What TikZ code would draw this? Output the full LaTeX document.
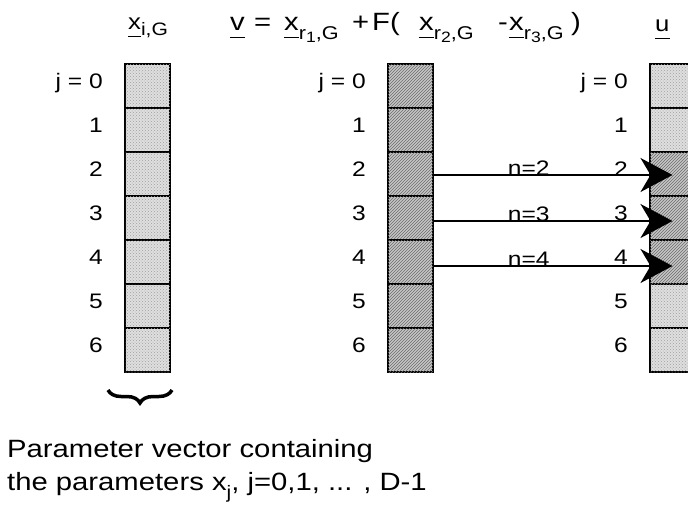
\documentclass[tikz,border=0pt]{standalone}
\usepackage{fontspec}
\setmainfont{Liberation Sans}
\usetikzlibrary{patterns,arrows.meta,decorations.pathreplacing}
\newsavebox\ulbox
\newcommand{\hs}[1]{\scalebox{1.17}[1]{#1}}
\newcommand{\myul}[1]{\sbox\ulbox{#1}\rlap{\rule[-8pt]{\wd\ulbox}{1.5pt}}\usebox\ulbox}
\newcommand{\sbs}[1]{\raisebox{-9pt}{\fontsize{18.5}{18.5}\selectfont #1}}
\newcommand{\ssb}[1]{\raisebox{-3pt}{\fontsize{15}{15}\selectfont #1}}
\begin{document}
\begin{tikzpicture}[x=1pt,y=-1pt,
  cellbase/.style={draw=black, line width=2.2pt, minimum width=45pt, minimum height=44pt, inner sep=0pt, outer sep=0pt},
  dotcell/.style={cellbase, fill=gray!25, postaction={pattern=crosshatch dots, pattern color=gray!75}},
  hatchcell/.style={cellbase, fill=gray!45, postaction={pattern=north east lines, pattern color=gray!85!black}},
  lbl/.style={font=\fontsize{21}{21}\selectfont, anchor=base east, inner sep=0pt},
  nlbl/.style={font=\fontsize{21}{21}\selectfont, anchor=base, inner sep=0pt},
  ttl/.style={font=\fontsize{25}{25}\selectfont, anchor=base west, inner sep=0pt},
  body/.style={font=\fontsize{25}{25}\selectfont, anchor=base west, inner sep=0pt},
  arr/.style={line width=2pt, -{Stealth[length=32pt,width=34pt,inset=10pt]}},
  brc/.style={line width=3.5pt, decorate, decoration={brace, mirror, amplitude=13pt}}]
\useasboundingbox (0,0) rectangle (688,507);
\clip (0,0) rectangle (688,507);
\fill[white] (0,0) rectangle (688,507);
% columns
\foreach \i in {0,...,6} {
  \node[dotcell] (a\i) at (147.5,{86+44*\i}) {};
  \node[hatchcell] (b\i) at (410.5,{86+44*\i}) {};
}
\foreach \i in {0,1,5,6} { \node[dotcell] (c\i) at (672.5,{86+44*\i}) {}; }
\foreach \i in {2,3,4} { \node[hatchcell] (c\i) at (672.5,{86+44*\i}) {}; }
% row labels
\foreach \col in {a,b,c} {
  \node[lbl] (\col l0) at ([xshift=-22pt,yshift=-2pt]\col0.west) {\hs{j = 0}};
  \foreach \i in {1,...,6} {
    \node[lbl] (\col l\i) at ([xshift=-22pt,yshift=-2pt]\col\i.west) {\hs{\i}};
  }
}
% arrows
\draw[arr] ([yshift=-1pt]b2.east) -- ([yshift=-1pt]c2.center) node[nlbl, pos=0.40] (n2) {\hs{n=2}};
\draw[arr] ([yshift=-3pt]b3.east) -- ([yshift=-3pt]c3.center) node[nlbl, pos=0.40] (n3) {\hs{n=3}};
\draw[arr] ([yshift=-4pt]b4.east) -- ([yshift=-4pt]c4.center) node[nlbl, pos=0.40] (n4) {\hs{n=4}};
% titles
\node[ttl, font=\fontsize{22}{22}\selectfont] (tx) at (128,29) {\hs{\myul{x}\raisebox{-6pt}{\fontsize{18}{18}\selectfont i,G}}};
\node[ttl] (tv) at (230,30) {\hs{\myul{v}}};
\node[ttl] (teq) at (254,30) {\hs{=}};
\node[ttl] (tx1) at (284,30) {\hs{\myul{x}\sbs{r\ssb{1},G}}};
\node[ttl] (tplus) at (352,30) {\hs{+}};
\node[ttl] (tF) at (372,30) {\hs{F(}};
\node[ttl] (tx2) at (419,30) {\hs{\myul{x}\sbs{r\ssb{2},G}}};
\node[ttl] (tminus) at (498,30) {\hs{-}};
\node[ttl] (tx3) at (509,30) {\hs{\myul{x}\sbs{r\ssb{3},G}}};
\node[ttl] (tclose) at (571,30) {\hs{)}};
\node[ttl, font=\fontsize{22}{22}\selectfont] (tu) at (655,31) {\hs{\myul{u}}};
% brace
\coordinate (bl) at (108,390);
\coordinate (br) at (172,390);
\draw[brc] (bl) -- (br);
% bottom text
\node[body] (p1) at (7,457) {\hs{Parameter vector containing}};
\node[body] (p2) at (7,490) {\hs{the parameters x\raisebox{-8pt}{\fontsize{18}{18}\selectfont j}, j=0,1, ... , D-1}};
\end{tikzpicture}
\end{document}
